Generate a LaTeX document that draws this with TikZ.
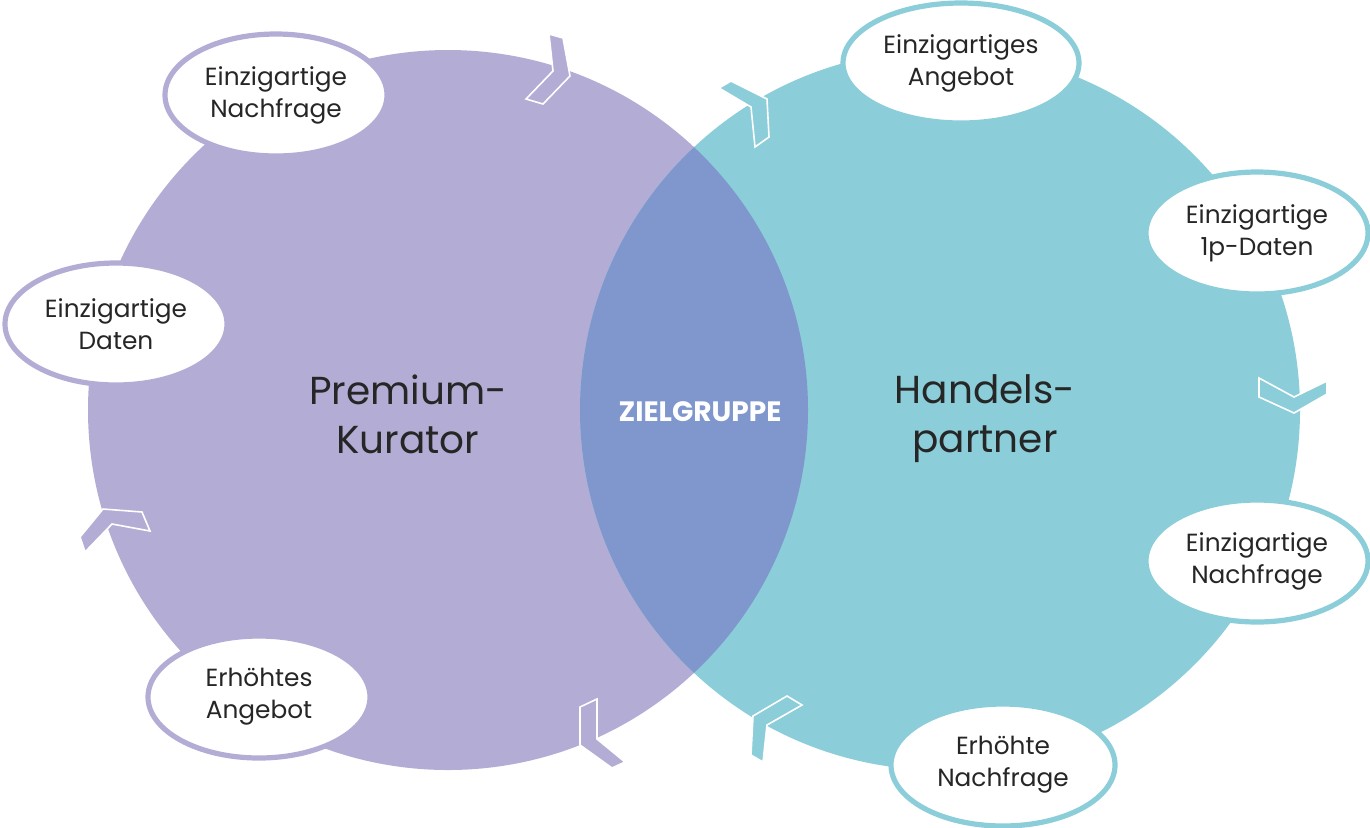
\documentclass[tikz,border=0pt]{standalone}
\usepackage{fontspec}
\setmainfont{Poppins}
\usetikzlibrary{shapes.geometric}
\definecolor{kurator}{HTML}{B3ADD5}
\definecolor{partner}{HTML}{8BCDD8}
\definecolor{ziel}{HTML}{7F97CD}
\definecolor{schrift}{HTML}{262626}
\tikzset{
  blase/.style={ellipse, draw, fill=white, line width=2.6pt, inner sep=0pt,
    minimum width=111pt, minimum height=61pt, align=center,
    font=\fontsize{12.4}{16}\selectfont, text=schrift},
  pfeil/.style={draw=white, line width=0.8pt, line join=miter},
  titel/.style={align=center, font=\fontsize{19.5}{24.5}\selectfont, text=schrift},
}
\begin{document}
\begin{tikzpicture}[x=0.5pt, y=-0.5pt]
      \useasboundingbox (0,0) rectangle (1370,827);
      %
      \fill[kurator] (448,410) circle (360);   % left circle
      \fill[partner] (940,410) circle (360);   % right circle
      \begin{scope}                            % overlap
        \clip (448,410) circle (360);
        \fill[ziel] (940,410) circle (360);
      \end{scope}
      %
      \draw[pfeil, fill=kurator] (549,34) -- (563,38) -- (570,76) -- (543,104) -- (526,99) -- (553,71) -- cycle;     % top left
      \draw[pfeil, fill=partner] (719,88) -- (731,81) -- (767,99) -- (769,137) -- (755,147) -- (751,107) -- cycle;   % top right
      \draw[pfeil, fill=partner] (1259,378) -- (1259,397) -- (1294,413) -- (1327,394) -- (1327,381) -- (1294,397) -- cycle; % right
      \draw[pfeil, fill=partner] (787,696) -- (802,705) -- (767,725) -- (763,762) -- (751,755) -- (753,716) -- cycle; % bottom right
      \draw[pfeil, fill=kurator] (580,707) -- (597,699) -- (597,739) -- (625,762) -- (612,768) -- (580,745) -- cycle; % bottom left
      \draw[pfeil, fill=kurator] (80,537) -- (103,509) -- (142,512) -- (150,531) -- (112,524) -- (85,552) -- cycle;  % left
      %
      \node[titel] (kurator) at (408,414) {Premium-\\Kurator};
      \node[titel] (partner) at (985,419) {Handels-\\partner};
      \node[text=white, font=\fontsize{14}{16}\bfseries\selectfont] (ziel) at (700,412) {ZIELGRUPPE};
      %
      \node[blase, draw=kurator] (knachfrage) at (276,95) {Einzigartige\\Nachfrage};   % left side
      \node[blase, draw=kurator] (kdaten) at (116,324) {Einzigartige\\Daten};
      \node[blase, draw=kurator] (kangebot) at (259,697) {Erhöhtes\\Angebot};
      %%
      \node[blase, draw=partner, minimum width=118pt, minimum height=60pt] (pangebot) at (961,63) {Einzigartiges\\Angebot}; % right side
      \node[blase, draw=partner] (pdaten) at (1257,233) {Einzigartige\\1p-Daten};
      \node[blase, draw=partner] (pnachfrage) at (1257,561) {Einzigartige\\Nachfrage};
      \node[blase, draw=partner, minimum width=112pt] (perhoeht) at (1003,765) {Erhöhte\\Nachfrage};
      %
    \end{tikzpicture}
\end{document}
